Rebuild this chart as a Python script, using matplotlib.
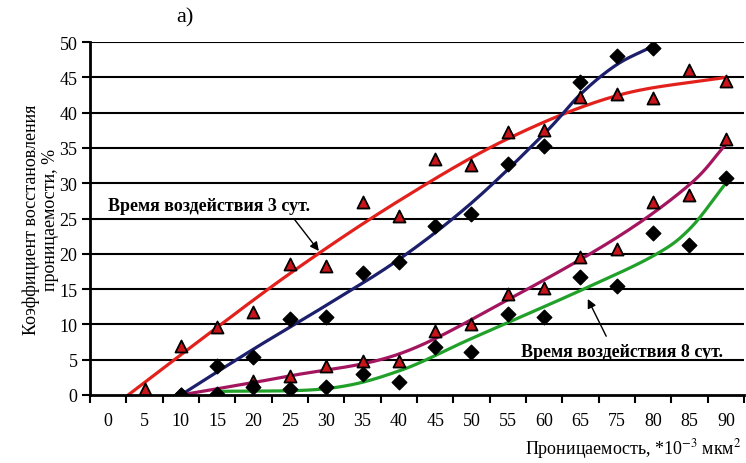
import numpy as np
import matplotlib
matplotlib.use("Agg")
import matplotlib.pyplot as plt

# ------------------------- data -------------------------
CATEGORIES = ["0", "5", "10", "15", "20", "25", "30", "35", "40", "45",
              "50", "55", "60", "65", "75", "80", "85", "90"]

# red triangles (3 days), categories 5..90
RED_CATS = ["5", "10", "15", "20", "25", "30", "35", "40", "45", "50",
            "55", "60", "65", "75", "80", "85", "90"]
RED_TRI = [0.8, 7.0, 9.6, 11.8, 18.6, 18.3, 27.4, 25.4, 33.4, 32.6,
           37.3, 37.5, 42.2, 42.6, 42.0, 46.0, 44.5]

# black diamonds on blue curve, categories 10..80
BLUE_CATS = ["10", "15", "20", "25", "30", "35", "40", "45", "50",
             "55", "60", "65", "75", "80"]
BLUE_DIA = [0.0, 4.1, 5.4, 10.8, 11.0, 17.3, 18.8, 24.0, 25.6,
            32.7, 35.3, 44.3, 48.0, 49.1]

# 8 days series, categories 10..90
LOW_CATS = ["10", "15", "20", "25", "30", "35", "40", "45", "50",
            "55", "60", "65", "75", "80", "85", "90"]
PURPLE_TRI = [0.0, 0.2, 2.0, 2.7, 4.1, 4.8, 4.8, 9.1, 10.1,
              14.3, 15.2, 19.5, 20.7, 27.3, 28.3, 36.3]
GREEN_DIA = [0.0, 0.2, 1.1, 0.9, 1.1, 3.0, 1.8, 6.8, 6.1,
             11.5, 11.0, 16.7, 15.4, 22.9, 21.2, 30.7]

# trend curves (position in category units, value)
RED_CURVE_X = [0.55, 2, 5, 8, 11, 14, 17]
RED_CURVE_Y = [0.0, 5.7, 17.2, 27.5, 36.3, 42.4, 45.0]
BLUE_CURVE_X = [2, 4, 6, 8, 10, 12, 13, 14, 15]
BLUE_CURVE_Y = [0.0, 6.5, 12.7, 19.2, 27.2, 37.0, 42.6, 46.8, 49.4]
PURPLE_CURVE_X = [2, 5, 8, 11, 14, 16, 17]
PURPLE_CURVE_Y = [0.0, 2.7, 5.8, 13.5, 22.3, 29.8, 35.5]
GREEN_CURVE_X = [3, 6, 8, 10, 13, 15, 16, 17]
GREEN_CURVE_Y = [0.5, 0.9, 3.4, 8.0, 14.8, 19.7, 23.5, 30.0]

plt.rcParams["font.family"] = ["Liberation Serif", "DejaVu Serif"]
plt.rcParams["mathtext.fontset"] = "stix"


def pos(cats):
    return [CATEGORIES.index(c) for c in cats]


def catmull_rom(xk, yk, n=30):
    # smooth line through the read points
    p = np.column_stack([xk, yk]).astype(float)
    p = np.vstack([2 * p[0] - p[1], p, 2 * p[-1] - p[-2]])
    out = []
    t = np.linspace(0, 1, n, endpoint=False)[:, None]
    for i in range(1, len(p) - 2):
        p0, p1, p2, p3 = p[i - 1], p[i], p[i + 1], p[i + 2]
        seg = 0.5 * ((2 * p1) + (-p0 + p2) * t + (2 * p0 - 5 * p1 + 4 * p2 - p3) * t ** 2
                     + (-p0 + 3 * p1 - 3 * p2 + p3) * t ** 3)
        out.append(seg)
    out.append(p[-2][None, :])
    out = np.vstack(out)
    return out[:, 0], out[:, 1]


def trend(ax, xk, yk, color):
    xs, ys = catmull_rom(xk, yk)
    ax.plot(xs, ys, color=color, lw=2.3, zorder=3, solid_capstyle="round")


# ------------------------- plot -------------------------
fig = plt.figure(figsize=(7.46, 4.64), dpi=100)
ax = fig.add_axes([90 / 746, 1 - 396 / 464, 654 / 746, 353 / 464])

ax.set_xlim(-0.5, len(CATEGORIES) - 0.5)
ax.set_ylim(0, 50)

for y in range(5, 51, 5):
    ax.axhline(y, color="black", lw=1.5, zorder=1)

trend(ax, RED_CURVE_X, RED_CURVE_Y, "#e3211c")
trend(ax, BLUE_CURVE_X, BLUE_CURVE_Y, "#1c1f6b")
trend(ax, PURPLE_CURVE_X, PURPLE_CURVE_Y, "#a3165f")
trend(ax, GREEN_CURVE_X, GREEN_CURVE_Y, "#21a02a")

tri_kw = dict(marker="^", s=75, facecolor="#c8141a", edgecolor="black", linewidths=1.3, zorder=4)
dia_kw = dict(marker="D", s=55, facecolor="black", edgecolor="black", zorder=4)
ax.scatter(pos(RED_CATS), RED_TRI, **tri_kw)
ax.scatter(pos(BLUE_CATS), BLUE_DIA, **dia_kw)
ax.scatter(pos(LOW_CATS), PURPLE_TRI, **tri_kw)
ax.scatter(pos(LOW_CATS), GREEN_DIA, **dia_kw)

# axes look
for s in ["top", "right"]:
    ax.spines[s].set_visible(False)
ax.spines["left"].set_linewidth(2.0)
ax.spines["bottom"].set_linewidth(2.0)
ax.spines["bottom"].set_zorder(5)

ax.set_yticks(range(0, 51, 5))
ax.tick_params(axis="y", length=6, width=1.5, labelsize=13, pad=3)
ax.set_xticks(range(len(CATEGORIES)))
ax.set_xticklabels(CATEGORIES)
ax.set_xticks(np.arange(-0.5, len(CATEGORIES), 1.0), minor=True)
ax.tick_params(axis="x", which="major", length=0, labelsize=13, pad=12)
ax.tick_params(axis="x", which="minor", length=6, width=1.5, direction="out")

ax.set_ylabel("Коэффициент восстановления\nпроницаемости, %", fontsize=13, labelpad=0)
fig.text(742 / 746, 1 - 449 / 464, "Проницаемость, *10$^{-3}$ мкм$^2$", ha="right", va="center",
         fontsize=13)
fig.text(185 / 746, 1 - 18 / 464, "а)", ha="center", va="center", fontsize=16)

ax.annotate("Время воздействия 3 сут.", xy=(5.8, 20.4), xytext=(0.0, 26.9),
            fontsize=13, fontweight="bold", va="center", ha="left",
            arrowprops=dict(arrowstyle="-|>", color="black", lw=1.0,
                            shrinkA=3, shrinkB=0, relpos=(0.9, 0.0)), zorder=6)
ax.annotate("Время воздействия 8 сут.", xy=(13.2, 13.6), xytext=(11.35, 6.2),
            fontsize=13, fontweight="bold", va="center", ha="left",
            arrowprops=dict(arrowstyle="-|>", color="black", lw=1.0,
                            shrinkA=3, shrinkB=0, relpos=(0.44, 1.0)), zorder=6)

fig.savefig("out.png", dpi=100)
